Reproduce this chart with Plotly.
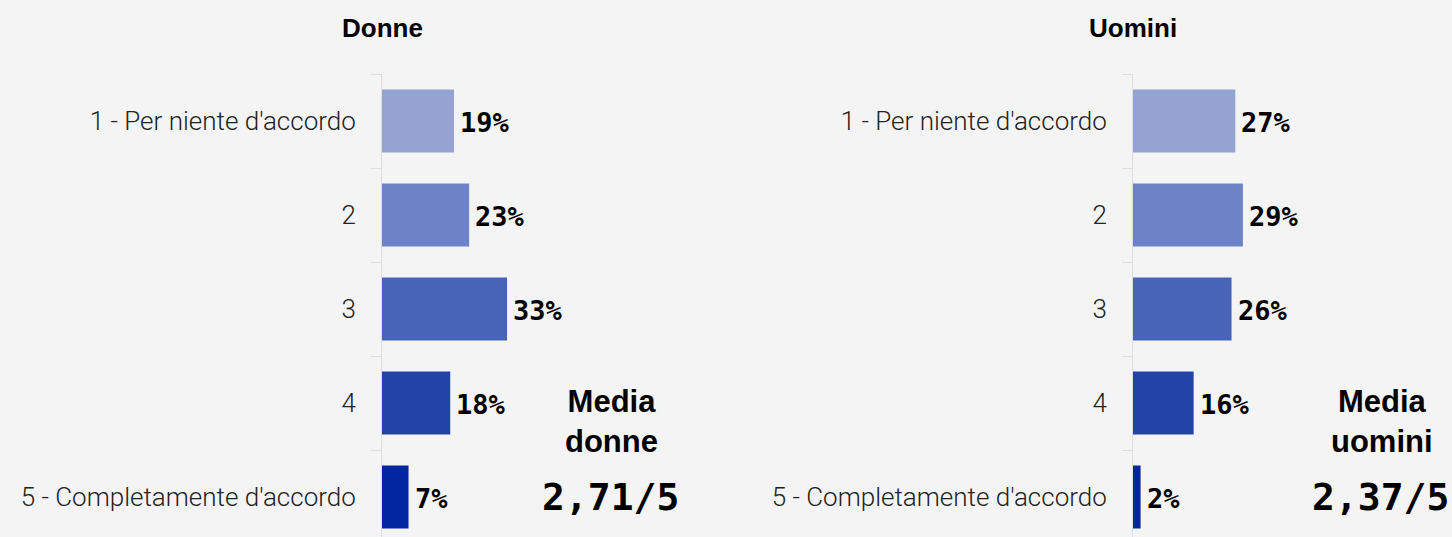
import plotly.graph_objects as go

categories = ["1 - Per niente d'accordo", "2", "3", "4", "5 - Completamente d'accordo"]
donne = [19, 23, 33, 18, 7]
uomini = [27, 29, 26, 16, 2]
bar_colors = ["#94A3D1", "#6D83C7", "#4864B9", "#2443A8", "#0026A0"]
titles = ["Donne", "Uomini"]
media_labels = ["Media<br>donne", "Media<br>uomini"]
media_values = ["2,71/5", "2,37/5"]

W, H = 1452, 537
px_per_pct = 3.79
bg = "#F4F4F4"

x_left = 382
x_right = 1133
left_dom = [x_left / W, 700 / W]
right_dom = [x_right / W, 1.0]

fig = go.Figure()
for i, (vals, xa, ya) in enumerate([(donne, "x", "y"), (uomini, "x2", "y2")]):
    fig.add_trace(go.Bar(
        x=vals, y=categories, orientation="h",
        marker=dict(color=bar_colors, line=dict(width=0)),
        width=0.67, xaxis=xa, yaxis=ya, hoverinfo="skip",
    ))
    for idx, v in enumerate(vals):
        fig.add_annotation(
            x=v, y=idx, xref=xa, yref=ya, text=f"{v}%", showarrow=False,
            xanchor="left", yanchor="middle", xshift=4, yshift=-1,
            font=dict(family="DejaVu Sans Mono", size=27, color="#000", weight="bold"),
        )

plot_top = 74
plot_h = H - plot_top
y_bottom = -0.5 + plot_h / 94.0

def xrange(dom):
    return [0, (dom[1] - dom[0]) * W / px_per_pct]

axis_common = dict(
    showgrid=False, zeroline=False, showticklabels=False, ticks="",
    showline=False, fixedrange=True,
)
yaxis_common = dict(
    type="category",
    categoryorder="array", categoryarray=categories,
    range=[y_bottom, -0.5], showgrid=False, zeroline=False, fixedrange=True,
    showline=True, linecolor="#DDDDDD", linewidth=1,
    ticks="outside", tickson="boundaries", ticklen=10, tickcolor="#DDDDDD",
    tickwidth=1, ticklabelstandoff=20,
    tickfont=dict(family="Roboto", size=26, color="#222", weight=300),
)

fig.update_layout(
    width=W, height=H,
    paper_bgcolor=bg, plot_bgcolor=bg,
    margin=dict(l=0, r=0, t=plot_top, b=0),
    showlegend=False,
    bargap=0.33,
    xaxis=dict(domain=left_dom, range=xrange(left_dom), **axis_common),
    xaxis2=dict(domain=right_dom, range=xrange(right_dom), anchor="y2", **axis_common),
    yaxis=dict(anchor="x", **yaxis_common),
    yaxis2=dict(anchor="x2", **yaxis_common),
)

title_x = [x_left / W, x_right / W]
media_x = [611 / W, 1382 / W]
value_x = [610 / W, 1380.5 / W]
for i in range(2):
    fig.add_annotation(
        x=title_x[i], y=1 + (plot_top - 28) / plot_h, xref="paper", yref="paper",
        text=titles[i], showarrow=False, xanchor="center", yanchor="middle",
        font=dict(family="Liberation Sans", size=26, color="#000", weight="bold"),
    )
    fig.add_annotation(
        x=media_x[i], y=(H - 421) / plot_h, xref="paper", yref="paper",
        text=media_labels[i], showarrow=False, xanchor="center", yanchor="middle",
        font=dict(family="Liberation Sans", size=31, color="#000", weight="bold"),
    )
    fig.add_annotation(
        x=value_x[i], y=(H - 497) / plot_h, xref="paper", yref="paper",
        text=media_values[i], showarrow=False, xanchor="center", yanchor="middle",
        font=dict(family="DejaVu Sans Mono", size=38, color="#000", weight="bold"),
    )

fig.write_html(
    "out.html",
    config={"displayModeBar": False, "staticPlot": False},
    post_script="document.body.style.margin='0';document.body.style.background='#F4F4F4';document.body.style.overflow='hidden';",
)
